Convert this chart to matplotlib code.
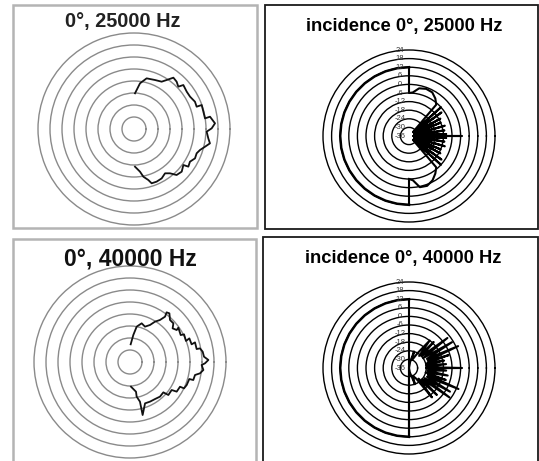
import numpy as np
import matplotlib
matplotlib.use('Agg')
import matplotlib.pyplot as plt
from matplotlib.patches import Rectangle
import matplotlib.transforms as mtransforms

W, H, DPI = 539, 461, 100

# ---------------- data ----------------
# left panels: arbitrary radial units, rings every 12
left_rings = [12, 24, 36, 48, 60, 72, 84, 96]

tl_theta = [88.4, 82.5, 76.0, 66.8, 59.7, 56.3, 52.5, 48.0, 43.7, 41.7, 35.3, 30.0,
            24.1, 19.6, 19.5, 14.0, 8.5, 9.2, 4.0, 0.5, -2.1, -7.2, -10.7, -14.0,
            -17.6, -21.2, -25.7, -30.3, -34.7, -36.1, -41.8, -47.2, -50.9, -55.0,
            -60.7, -66.7, -72.0, -74.3, -78.9, -82.0, -88.5]
tl_r = [35.7, 46.1, 52.2, 53.3, 54.8, 58.9, 64.7, 63.7, 61.3, 66.1, 64.6, 64.7,
        66.8, 66.5, 71.8, 71.5, 71.8, 77.0, 81.2, 77.7, 72.7, 74.9, 77.3, 73.2,
        69.3, 67.2, 67.7, 64.8, 66.1, 61.1, 64.0, 62.7, 57.1, 54.1,
        56.6, 57.3, 57.1, 53.0, 48.6, 43.1, 37.7]

bl_theta = [87.8, 83.0, 79.3, 73.2, 67.0, 61.6, 58.2, 54.5, 52.3, 53.6, 51.0, 46.4,
            41.7, 38.3, 34.4, 35.4, 28.0, 27.1, 20.6, 21.7, 16.0, 16.8, 11.0, 11.0,
            8.1, 4.1, 1.5, -1.0, -2.4, -6.2, -9.2, -11.3, -15.9, -16.0, -22.1, -26.0,
            -26.3, -32.4, -33.9, -40.7, -42.3, -49.1, -55.9, -63.2, -70.0, -76.6,
            -75.9, -79.1, -78.6, -87.7]
bl_r = [17.7, 27.2, 36.0, 40.4, 38.4, 42.1, 47.5, 51.6, 57.3, 61.7, 62.6, 58.0,
        58.1, 54.3, 56.6, 59.3, 57.4, 60.7, 59.8, 63.9, 64.1, 67.9, 67.9, 71.3,
        73.4, 74.2, 78.4, 75.0, 71.7, 73.8, 70.9, 66.3, 65.8, 61.7, 61.2, 60.1,
        55.8, 55.3, 50.2, 50.6, 45.1, 45.8, 44.7, 44.4, 44.0, 54.5,
        40.9, 35.3, 30.3, 24.7]

# right panels: dB scale
right_rings = [-30, -24, -18, -12, -6, 0, 6, 12, 18, 24]
right_labels = [24, 18, 12, 6, 0, -6, -12, -18, -24, -30, -36]

# rear half (constant level) shared by both right panels
rear_theta = [90, 100, 110, 120, 130, 140, 150, 160, 170, 180,
              190, 200, 210, 220, 230, 240, 250, 260, 270]
rear_val = [12, 12, 12, 12, 12, 12, 12, 12, 12, 12,
            12, 12, 12, 12, 12, 12, 12, 12, 12]

tr_theta = [-90, -85, -78, -70, -62, -55, -49,
            -45, -42, -39, -36, -33, -29, -26, -23, -20, -16, -13, -9, -6, -3, -1.5,
            0, 1.5, 3, 6, 9, 13, 16, 20, 23, 26, 29, 33, 36, 39, 42, 45,
            49, 55, 62, 70, 78, 85, 90, 90]
tr_val = [-6, -5, 0.5, 1, -1, -4, -7,
          -32, -6, -32, -8, -32, -11, -32, -12, -32, -10, -32, -11, -32, -10, -33,
          1, -33, -10, -32, -11, -32, -10, -32, -12, -32, -11, -32, -8, -32, -6, -32,
          -7, -4, -1.5, -1, -2, -5.5, -6, 12]

br_theta = [90, 90,
            80, 73, 69, 60, 53, 50, 46.5, 43, 38, 35, 31, 27, 24, 21, 18, 15, 12, 10,
            6, 3, 0, -1, -4, -8, -11, -15, -18, -20, -23, -26, -30, -33, -36, -40,
            -44, -48, -52, -56, -64, -70, -73, -80, -90, -90]
br_val = [12, -36,
          -32, -24, -30, -24, -12, -25, -11, -24, -2, -24, -1, -22, 1.5, -22, -7, -23, -11, -24,
          -10, -24, 1, -24, -10, -23, -8.5, -24, -9, -22, 1.5, -22, -3, -23, -1, -24,
          -9, -26, -10, -27, -30, -24, -30, -33, -36, 12]

# ---------------- figure ----------------
fig = plt.figure(figsize=(W / DPI, H / DPI), dpi=DPI)
fig.patch.set_facecolor('white')
FONT = ['Liberation Sans', 'DejaVu Sans']


def box(x0, y0, x1, y1, ec, lw):
    fig.patches.append(Rectangle((x0 / W, 1 - y1 / H), (x1 - x0) / W, (y1 - y0) / H,
                                 fill=False, ec=ec, lw=lw, transform=fig.transFigure))


def polar_at(cx, cy, rpx):
    ax = fig.add_axes([(cx - rpx) / W, 1 - (cy + rpx) / H, 2 * rpx / W, 2 * rpx / H],
                      projection='polar')
    ax.set_facecolor('none')
    ax.spines['polar'].set_visible(False)
    ax.set_thetagrids([])
    ax.xaxis.grid(False)
    return ax


box(13, 5, 257, 228, '#b4b4b4', 1.8)
box(13, 239, 256, 480, '#b4b4b4', 1.8)
box(265, 5, 538, 229, '#1a1a1a', 1.3)
box(263, 237, 538, 480, '#1a1a1a', 1.3)

# left panels
for (cx, cy, th, rr) in [(134, 129, tl_theta, tl_r), (130, 362, bl_theta, bl_r)]:
    ax = polar_at(cx, cy, 100)
    ax.set_ylim(0, 100)
    ax.set_rgrids(left_rings, labels=[''] * len(left_rings))
    ax.yaxis.grid(True, color='#8a8a8a', lw=1.0)
    ax.plot(np.deg2rad(th), rr, color='#111111', lw=1.3)

# right panels
rpx_r = 62 * 86 / 60
for (cx, cy, th, vv) in [(409, 136, tr_theta, tr_val), (409, 368, br_theta, br_val)]:
    ax = polar_at(cx, cy, rpx_r)
    ax.set_ylim(-36, 26)
    ax.set_rgrids(right_rings, labels=[''] * len(right_rings))
    ax.yaxis.grid(True, color='black', lw=1.0)
    ax.plot(np.deg2rad(rear_theta), rear_val, color='black', lw=1.8)
    ax.plot(np.deg2rad(th), vv, color='black', lw=1.5)
    ax.plot(np.deg2rad([270, 270]), [12, tr_val[0] if th is tr_theta else -36],
            color='black', lw=1.5)
    tr = mtransforms.offset_copy(ax.transData, fig=fig, x=-9, y=0, units='dots')
    for v in right_labels:
        ax.text(np.pi / 2, v, str(v), transform=tr, ha='center', va='center',
                fontsize=5.5, color='#333333', family=FONT)

# titles
fig.text(123 / W, 1 - 21 / H, '0°, 25000 Hz', ha='center', va='center',
         fontsize=14.3, fontweight='bold', family=FONT, color='#222222')
fig.text(130 / W, 1 - 258.5 / H, '0°, 40000 Hz', ha='center', va='center',
         fontsize=16.5, fontweight='bold', family=FONT, color='#111111')
fig.text(404.5 / W, 1 - 26 / H, 'incidence 0°, 25000 Hz', ha='center', va='center',
         fontsize=13.2, fontweight='bold', family=FONT, color='black')
fig.text(403.5 / W, 1 - 258 / H, 'incidence 0°, 40000 Hz', ha='center', va='center',
         fontsize=13.2, fontweight='bold', family=FONT, color='black')

fig.savefig('out.png', dpi=DPI)
